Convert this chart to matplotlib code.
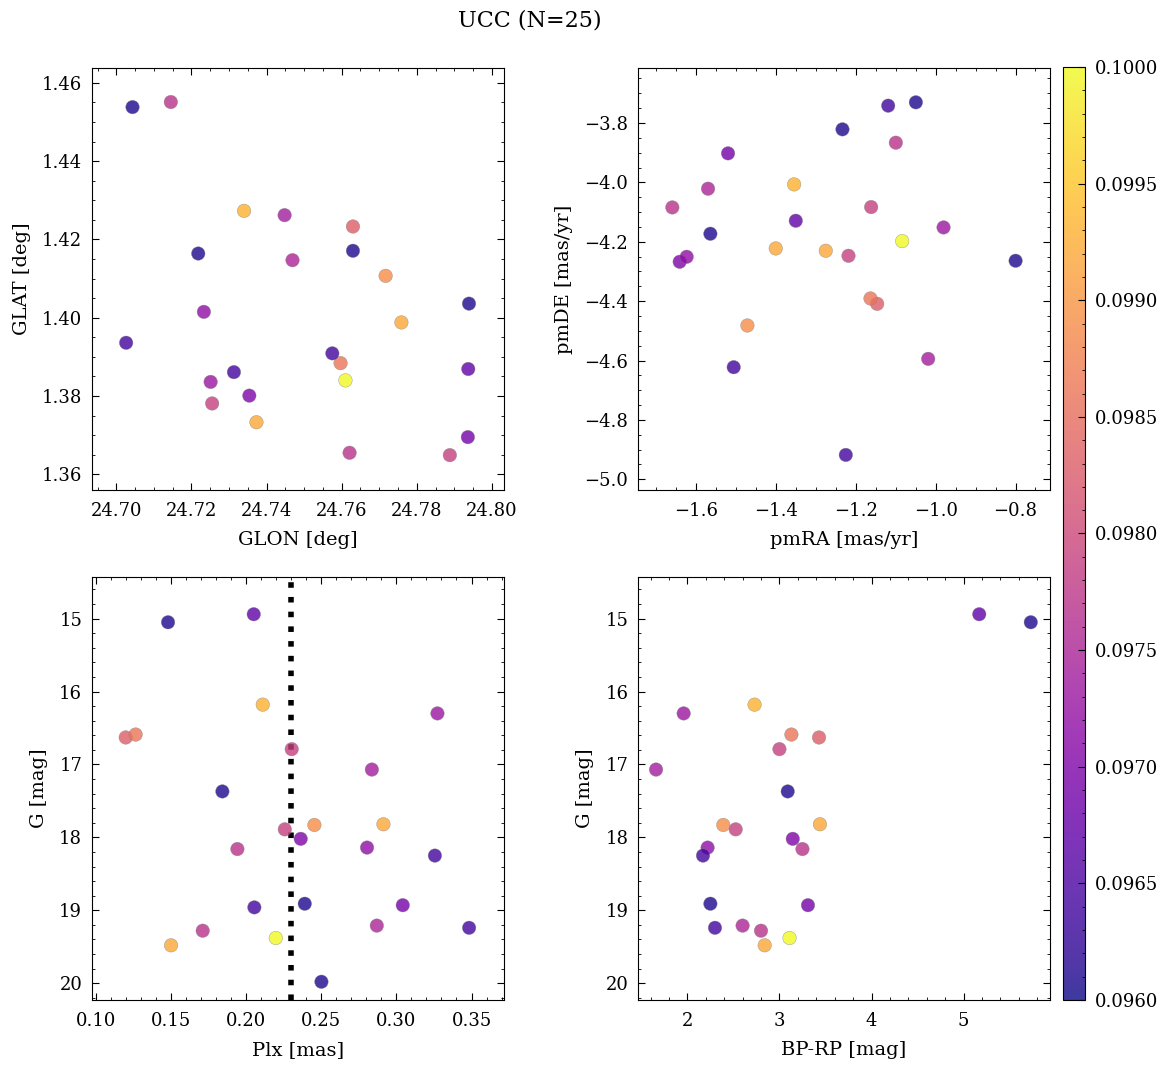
import numpy as np
import matplotlib
matplotlib.use("Agg")
import matplotlib.pyplot as plt
from matplotlib.ticker import AutoMinorLocator, MultipleLocator, FormatStrFormatter

# datos por estrella (25 miembros)
glon = [24.7043, 24.7937, 24.7340, 24.7251, 24.7630, 24.7597, 24.7255, 24.7448, 24.7218, 24.7888,
        24.7717, 24.7759, 24.7354, 24.7145, 24.7233, 24.7575, 24.7313, 24.7630, 24.7936, 24.7469,
        24.7026, 24.7621, 24.7610, 24.7373, 24.7939]
glat = [1.4538, 1.3869, 1.4273, 1.3836, 1.4233, 1.3884, 1.3781, 1.4262, 1.4164, 1.3649,
        1.4107, 1.3988, 1.3801, 1.4551, 1.4015, 1.3909, 1.3861, 1.4171, 1.3695, 1.4147,
        1.3936, 1.3655, 1.3840, 1.3733, 1.4036]
pmra = [-1.0498, -1.3508, -1.3550, -0.9804, -1.1468, -1.1635, -1.1619, -1.0189, -1.2338, -1.2187,
        -1.4721, -1.4010, -1.6418, -1.1000, -1.6242, -1.2254, -1.1192, -1.5649, -1.5206, -1.5707,
        -1.5064, -1.6602, -1.0841, -1.2756, -0.7998]
pmde = [-3.7303, -4.1292, -4.0067, -4.1517, -4.4090, -4.3910, -4.0831, -4.5944, -3.8213, -4.2472,
        -4.4820, -4.2225, -4.2674, -3.8663, -4.2506, -4.9180, -3.7416, -4.1730, -3.9022, -4.0213,
        -4.6225, -4.0843, -4.1978, -4.2303, -4.2640]
plx = [0.1478, 0.2049, 0.2109, 0.3273, 0.1196, 0.1262, 0.2302, 0.2836, 0.1840, 0.2256,
       0.2453, 0.2913, 0.2362, 0.1940, 0.2804, 0.3256, 0.2053, 0.2389, 0.3042, 0.2869,
       0.3484, 0.1709, 0.2196, 0.1498, 0.2500]
gmag = [15.05, 14.94, 16.18, 16.30, 16.63, 16.59, 16.79, 17.07, 17.37, 17.89,
        17.83, 17.82, 18.02, 18.16, 18.14, 18.25, 18.96, 18.91, 18.93, 19.21,
        19.24, 19.28, 19.38, 19.48, 19.98]
bp_rp = [5.73, 5.17, 2.73, 1.96, 3.43, 3.13, 3.00, 1.66, 3.09, 2.525,
         2.39, 3.44, 3.145, 3.25, 2.22, 2.17, np.nan, 2.25, 3.31, 2.60,
         2.30, 2.80, 3.11, 2.84, np.nan]
prob = [0.0961, 0.0967, 0.0993, 0.0973, 0.0983, 0.0986, 0.0979, 0.0974, 0.0961, 0.0979,
        0.0989, 0.0992, 0.0970, 0.0977, 0.0972, 0.0964, 0.0964, 0.0961, 0.0969, 0.0975,
        0.0964, 0.0977, 0.1000, 0.0992, 0.0961]
plx_linea = 0.23

plt.rcParams.update({
    "font.family": "serif",
    "font.serif": ["DejaVu Serif"],
    "font.size": 14,
    "axes.labelsize": 14,
    "axes.labelpad": 8,
    "axes.linewidth": 0.8,
    "xtick.direction": "in",
    "ytick.direction": "in",
    "xtick.top": True,
    "ytick.right": True,
    "xtick.major.size": 5,
    "ytick.major.size": 5,
    "xtick.minor.size": 2.5,
    "ytick.minor.size": 2.5,
    "xtick.major.pad": 8.5,
    "ytick.major.pad": 7,
    "xtick.minor.visible": True,
    "ytick.minor.visible": True,
    "xtick.labelsize": 13,
    "ytick.labelsize": 13,
})

fig = plt.figure(figsize=(11.73, 10.67), dpi=100)
ax1 = fig.add_axes([0.0784, 0.5408, 0.3512, 0.3955])
ax2 = fig.add_axes([0.5439, 0.5408, 0.3512, 0.3955])
ax3 = fig.add_axes([0.0784, 0.0628, 0.3512, 0.3964])
ax4 = fig.add_axes([0.5439, 0.0628, 0.3512, 0.3964])
cax = fig.add_axes([0.9062, 0.0628, 0.0188, 0.8744])

kw = dict(c=prob, cmap="plasma", vmin=0.096, vmax=0.1, s=95, alpha=0.8,
          edgecolors="grey", linewidths=0.3, zorder=3)

ax1.scatter(glon, glat, **kw)
ax1.set_xlim(24.6935, 24.8032)
ax1.set_ylim(1.356, 1.4638)
ax1.set_xlabel("GLON [deg]")
ax1.set_ylabel("GLAT [deg]")
ax1.xaxis.set_major_locator(MultipleLocator(0.02))
ax1.yaxis.set_major_locator(MultipleLocator(0.02))

ax2.scatter(pmra, pmde, **kw)
ax2.set_xlim(-1.7463, -0.7137)
ax2.set_ylim(-5.036, -3.6146)
ax2.set_xlabel("pmRA [mas/yr]")
ax2.set_ylabel("pmDE [mas/yr]")
ax2.xaxis.set_major_locator(MultipleLocator(0.2))
ax2.yaxis.set_major_locator(MultipleLocator(0.2))

ax3.scatter(plx, gmag, **kw)
ax3.axvline(plx_linea, color="black", ls=":", lw=4, zorder=2)
ax3.set_xlim(0.0971, 0.3716)
ax3.set_ylim(20.23, 14.43)
ax3.set_xlabel("Plx [mas]")
ax3.set_ylabel("G [mag]")
ax3.xaxis.set_major_locator(MultipleLocator(0.05))
ax3.yaxis.set_major_locator(MultipleLocator(1))

sc = ax4.scatter(bp_rp, gmag, **kw)
ax4.set_xlim(1.464, 5.938)
ax4.set_ylim(20.23, 14.43)
ax4.set_xlabel("BP-RP [mag]")
ax4.set_ylabel("G [mag]")
ax4.xaxis.set_major_locator(MultipleLocator(1))
ax4.yaxis.set_major_locator(MultipleLocator(1))

for ax in (ax1, ax2, ax3, ax4):
    ax.xaxis.set_minor_locator(AutoMinorLocator())
    ax.yaxis.set_minor_locator(AutoMinorLocator())

cbar = fig.colorbar(sc, cax=cax)
cbar.solids.set_alpha(0.8)
cbar.set_ticks(np.arange(0.096, 0.10001, 0.0005))
cbar.ax.yaxis.set_major_formatter(FormatStrFormatter("%.4f"))
cbar.ax.yaxis.set_minor_locator(AutoMinorLocator(5))
cbar.ax.tick_params(which="both", direction="in", labelsize=13)
cbar.outline.set_linewidth(0.8)

fig.suptitle("UCC (N=25)", x=0.452, y=0.981, fontsize=16, va="center")

fig.savefig("out.png", dpi=100)
